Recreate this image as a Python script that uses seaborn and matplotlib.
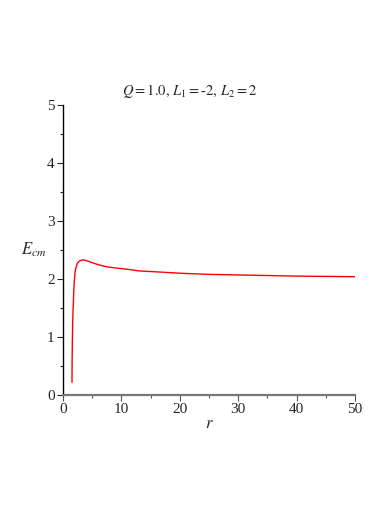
import numpy as np
import pandas as pd
import seaborn as sns
import matplotlib.pyplot as plt
from matplotlib.ticker import MultipleLocator

# values
r_vals = [1.54, 1.56, 1.6, 1.65, 1.7, 1.76, 1.85, 1.95, 2.05, 2.2, 2.45,
          2.8, 3.37, 3.9, 4.5, 5.3, 6.3, 7.5, 9.0, 10.9, 13.0, 16.6, 20.0,
          25.0, 30.0, 35.0, 40.0, 45.0, 50.0]
e_vals = [0.22, 0.55, 0.9, 1.2, 1.4, 1.55, 1.8, 1.98, 2.10, 2.19, 2.27,
          2.31, 2.33, 2.32, 2.30, 2.27, 2.24, 2.21, 2.19, 2.17, 2.14, 2.12, 2.10,
          2.08, 2.07, 2.06, 2.05, 2.045, 2.04]

df = pd.DataFrame({"r": r_vals, "E": e_vals})

sns.set_style("ticks")
plt.rcParams["font.family"] = ["Liberation Serif", "DejaVu Serif"]
plt.rcParams["mathtext.fontset"] = "stix"

fig = plt.figure(figsize=(3.92, 5.08), dpi=100)
ax = fig.add_axes([0.1607, 0.2224, 0.7449, 0.5709])

sns.lineplot(data=df, x="r", y="E", color="red", linewidth=1.0, ax=ax,
             sort=False, estimator=None)

ax.set_xlim(0, 50)
ax.set_ylim(0, 5)
ax.xaxis.set_major_locator(MultipleLocator(10))
ax.xaxis.set_minor_locator(MultipleLocator(5))
ax.yaxis.set_major_locator(MultipleLocator(1))
ax.yaxis.set_minor_locator(MultipleLocator(0.5))

for s in ["top", "right"]:
    ax.spines[s].set_visible(False)
ax.spines["left"].set_color("black")
ax.spines["left"].set_linewidth(1.0)
ax.spines["bottom"].set_color("#777777")
ax.spines["bottom"].set_linewidth(1.6)

ax.tick_params(which="major", length=4, width=0.8, labelsize=11, pad=2)
ax.tick_params(which="minor", length=2, width=0.8)
ax.tick_params(axis="x", which="both", color="#555555")

ax.set_xlabel("$r$", fontsize=12, labelpad=0)
ax.set_ylabel("$E_{cm}$", fontsize=12, rotation=0, labelpad=14)
ax.yaxis.set_label_coords(-0.10, 0.47)

fig.text(0.485, 0.813, "$Q = 1.0,\\,L_1 = $-$2,\\,L_2 = 2$", fontsize=10.5,
         ha="center", va="baseline")

fig.savefig("out.png", dpi=100)
